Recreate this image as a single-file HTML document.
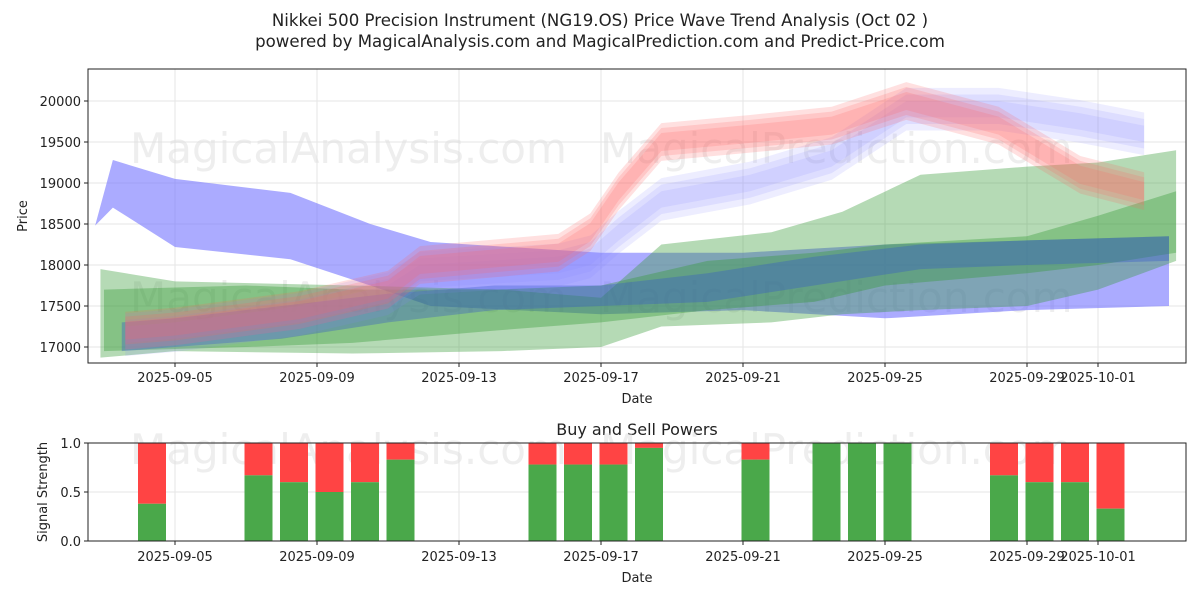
<!DOCTYPE html>
<html><head><meta charset="utf-8">
<style>
body{margin:0;background:#fff;font-family:"Liberation Sans","DejaVu Sans",sans-serif;}
svg text{font-family:"DejaVu Sans","Liberation Sans",sans-serif;}
</style></head>
<body>
<svg id="chart" width="1200" height="600" xmlns="http://www.w3.org/2000/svg">
<defs><clipPath id="clipTop"><rect x="88" y="69" width="1098" height="294"/></clipPath></defs>
<rect width="1200" height="600" fill="#fff"/>
<text x="600" y="26" text-anchor="middle" font-size="16.6" fill="#222">Nikkei 500 Precision Instrument (NG19.OS) Price Wave Trend Analysis (Oct 02 )</text>
<text x="600" y="47" text-anchor="middle" font-size="16.6" fill="#222">powered by MagicalAnalysis.com and MagicalPrediction.com and Predict-Price.com</text>
<g id="topg"></g>
<g id="botg"></g>
</svg>
<script>
// ---- data (days relative to 2025-09-05) ----
const tickDays = [0,4,8,12,16,20,24,26];
const tickLabels = ["2025-09-05","2025-09-09","2025-09-13","2025-09-17","2025-09-21","2025-09-25","2025-09-29","2025-10-01"];
const priceTicks = [17000,17500,18000,18500,19000,19500,20000];

const blueDays = [-2.25,-1.75,0,3.25,5.5,7.2,12,16,20,24,28];
const blueUpper = [18480,19280,19050,18880,18500,18280,18150,18150,18250,18300,18350];
const blueLower = [18480,18700,18220,18070,17750,17500,17400,17450,17350,17450,17500];

const greenLowDays = [-2.1,0,5,9.2,12,13.7,16.8,18.8,21,24,26,28.2];
const greenLowUpper = [17950,17800,17750,17700,17600,18250,18400,18650,19100,19200,19250,19400];
const greenLowLower = [16870,16950,16920,16950,17000,17250,17300,17400,17450,17500,17700,18050];

const greenHighDays = [-2,2,5,9,12,15,18,20,24,26,28.2];
const greenHighUpper = [17700,17750,17700,17700,17750,18050,18150,18250,18350,18600,18900];
const greenHighLower = [16950,17000,17050,17200,17300,17450,17550,17750,17900,18000,18150];

const darkDays = [-1.5,0,3,6,9,12,15,18,21,24,28];
const darkUpper = [17300,17350,17500,17650,17750,17750,17900,18100,18250,18300,18350];
const darkLower = [16950,17000,17100,17300,17450,17500,17550,17750,17950,18000,18050];

const waveDays = [-1.4,0,3.5,6,6.9,10.8,11.7,12.5,13.7,16.2,18.5,20.6,23.2,25.5,27.3];
const redCenter = [17200,17250,17450,17700,18000,18150,18400,18900,19500,19600,19700,20000,19700,19100,18900];
const lightBlueCenter = [17150,17200,17400,17650,17900,18000,18100,18400,18800,19000,19300,19900,19900,19750,19600];

const barDays = [0,3,4,5,6,7,11,12,13,14,17,19,20,21,24,25,26,27];
const buyPower = [0.38,0.67,0.6,0.5,0.6,0.83,0.78,0.78,0.78,0.95,0.83,1,1,1,0.67,0.6,0.6,0.33];

// ---- scales ----
const X0=88,X1=1186;
const xs=d=>175+d*35.5;
const xbar=d=>xs(d)-23;
const ys=p=>101+(20000-p)*0.082;
const yb=v=>541-v*98;
const NS="http://www.w3.org/2000/svg";
function mk(parent,tag,attrs){const e=document.createElementNS(NS,tag);for(const k in attrs)e.setAttribute(k,attrs[k]);parent.appendChild(e);return e;}
const gTop=document.getElementById('topg'), gBot=document.getElementById('botg');

mk(gTop,'rect',{x:X0,y:69,width:X1-X0,height:294,fill:'#fff'});
tickDays.forEach(d=>{const l=mk(gTop,'line',{x1:xs(d),x2:xs(d),y1:69,y2:363,stroke:'#e6e6e6'});

});
priceTicks.forEach(p=>{const l=mk(gTop,'line',{x1:X0,x2:X1,y1:ys(p),y2:ys(p),stroke:'#e6e6e6'});

});

function wm(g,x,y,t){const e=mk(g,'text',{x:x,y:y,'font-size':42,fill:'#ddd','fill-opacity':0.5});e.textContent=t;

}
wm(gTop,130,163,'MagicalAnalysis.com');wm(gTop,600,163,'MagicalPrediction.com');
wm(gTop,130,312,'MagicalAnalysis.com');wm(gTop,600,312,'MagicalPrediction.com');

const bandG=mk(gTop,'g',{'clip-path':'url(#clipTop)'});
function band(days,up,lo,color,op,name){
  let pts=days.map((d,i)=>xs(d)+','+ys(up[i]));
  for(let i=days.length-1;i>=0;i--)pts.push(xs(days[i])+','+ys(lo[i]));
  const e=mk(bandG,'polygon',{points:pts.join(' '),fill:color,'fill-opacity':op});
  
  
}
band(blueDays,blueUpper,blueLower,'#6666ff',0.55,'blue-wave-band');
band(greenLowDays,greenLowUpper,greenLowLower,'#339933',0.36,'green-wave-band-low');
band(greenHighDays,greenHighUpper,greenHighLower,'#339933',0.36,'green-wave-band-high');
band(darkDays,darkUpper,darkLower,'#3355cc',0.35,'dark-blue-wave-band');
[-80,0,80].forEach(o=>{
  band(waveDays,lightBlueCenter.map(v=>v+o+180),lightBlueCenter.map(v=>v+o-180),'#8888ff',0.15,'light-blue-wave-band');
});
[-60,0,60].forEach(o=>{
  band(waveDays,redCenter.map(v=>v+o+170),redCenter.map(v=>v+o-170),'#ff6666',0.2,'red-wave-band');
});

mk(gTop,'rect',{x:X0,y:69,width:X1-X0,height:294,fill:'none',stroke:'#222'});
tickDays.forEach((d,i)=>{mk(gTop,'line',{x1:xs(d),x2:xs(d),y1:363,y2:367,stroke:'#222'});
const t=mk(gTop,'text',{x:xs(d),y:382,'text-anchor':'middle','font-size':13,fill:'#222'});t.textContent=tickLabels[i];

});
priceTicks.forEach(p=>{mk(gTop,'line',{x1:X0-4,x2:X0,y1:ys(p),y2:ys(p),stroke:'#222'});
const t=mk(gTop,'text',{x:X0-7,y:ys(p)+5,'text-anchor':'end','font-size':13,fill:'#222'});t.textContent=p;

});
let tx=mk(gTop,'text',{x:637,y:403,'text-anchor':'middle','font-size':13,fill:'#222'});tx.textContent='Date';


tx=mk(gTop,'text',{x:27,y:216,'text-anchor':'middle','font-size':13,fill:'#222',transform:'rotate(-90 27 216)'});tx.textContent='Price';



tx=mk(gBot,'text',{x:637,y:435,'text-anchor':'middle','font-size':16,fill:'#222'});tx.textContent='Buy and Sell Powers';


mk(gBot,'rect',{x:X0,y:443,width:X1-X0,height:98,fill:'#fff'});
tickDays.forEach(d=>{const l=mk(gBot,'line',{x1:xs(d),x2:xs(d),y1:443,y2:541,stroke:'#e6e6e6'});

});
[0,0.5,1].forEach(v=>{const l=mk(gBot,'line',{x1:X0,x2:X1,y1:yb(v),y2:yb(v),stroke:'#e6e6e6'});

});
wm(gBot,130,464,'MagicalAnalysis.com');wm(gBot,600,464,'MagicalPrediction.com');
barDays.forEach((d,i)=>{
  const w=28,x=xbar(d)-w/2,b=buyPower[i];
  const s=mk(gBot,'rect',{x:x,y:yb(1),width:w,height:yb(b)-yb(1),fill:'#ff4444'});
  
  
  const g=mk(gBot,'rect',{x:x,y:yb(b),width:w,height:yb(0)-yb(b),fill:'#4aa84a'});
  
  
});
mk(gBot,'rect',{x:X0,y:443,width:X1-X0,height:98,fill:'none',stroke:'#222'});
tickDays.forEach((d,i)=>{mk(gBot,'line',{x1:xs(d),x2:xs(d),y1:541,y2:545,stroke:'#222'});
const tt=mk(gBot,'text',{x:xs(d),y:561,'text-anchor':'middle','font-size':13,fill:'#222'});tt.textContent=tickLabels[i];

});
[[0,'0.0'],[0.5,'0.5'],[1,'1.0']].forEach(([v,l])=>{mk(gBot,'line',{x1:X0-4,x2:X0,y1:yb(v),y2:yb(v),stroke:'#222'});
const tt=mk(gBot,'text',{x:X0-7,y:yb(v)+5,'text-anchor':'end','font-size':13,fill:'#222'});tt.textContent=l;

});
tx=mk(gBot,'text',{x:637,y:582,'text-anchor':'middle','font-size':13,fill:'#222'});tx.textContent='Date';


tx=mk(gBot,'text',{x:47,y:492,'text-anchor':'middle','font-size':13,fill:'#222',transform:'rotate(-90 47 492)'});tx.textContent='Signal Strength';


</script>
</body></html>
